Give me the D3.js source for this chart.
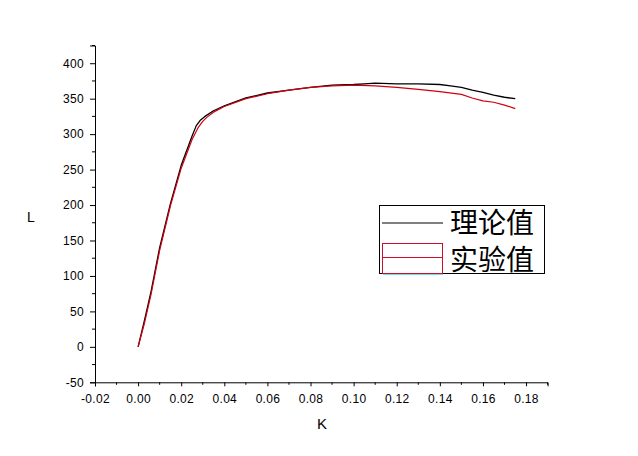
<!DOCTYPE html>
<html><head><meta charset="utf-8">
<script src="https://cdn.jsdelivr.net/npm/d3@7"></script>
<style>body{margin:0;background:#fff}svg{display:block}</style>
</head><body>
<svg id="c" width="638" height="456"></svg>
<script>
const theoryK = [0,0.003,0.006,0.01,0.015,0.02,0.025,0.027,0.029,0.031,0.035,0.04,0.05,0.06,0.07,0.08,0.09,0.10,0.105,0.11,0.12,0.13,0.14,0.145,0.15,0.155,0.16,0.165,0.17,0.175];
const theoryL = [0,38,78,140,202,256,297,312,320,325,333,340,351,358,362,366,369,370,371,372,371,371,370,368,366,362,359,355,352,350];
const expK = [0,0.003,0.006,0.01,0.015,0.02,0.025,0.028,0.030,0.032,0.035,0.04,0.05,0.06,0.07,0.08,0.09,0.10,0.11,0.12,0.13,0.14,0.15,0.155,0.16,0.165,0.17,0.175];
const expL = [0,34,74,136,199,252,292,310,318,324,331,339,350,357,362,366,368,369,368,366,363,360,356,351,347,345,341,336];
const xTicks = [-0.02,0,0.02,0.04,0.06,0.08,0.10,0.12,0.14,0.16,0.18];
const yTicks = [-50,0,50,100,150,200,250,300,350,400];
const seriesNames = ["理论值","实验值"];

const svg = d3.select("#c");
const x = d3.scaleLinear().domain([-0.02,0.19]).range([95,547.6]);
const y = d3.scaleLinear().domain([-50,425]).range([382.3,45.5]);
const font = "'Liberation Sans', Arial, sans-serif";

// x axis
const xAxis = d3.axisBottom(x).tickValues(xTicks).tickFormat(d=>d.toFixed(2)).tickSizeOuter(0).tickSize(4).tickPadding(8);
const gx = svg.append("g").attr("transform","translate(0,382.3)").call(xAxis);
gx.selectAll("text").attr("font-family",font).attr("font-size",12).attr("letter-spacing",0.3).attr("fill","#000");
gx.selectAll("line,path").attr("stroke","#000");
const xMinor = d3.range(-0.01,0.195,0.02);
svg.append("g").selectAll("line").data(xMinor).join("line")
  .attr("x1",d=>x(d)).attr("x2",d=>x(d)).attr("y1",382.3).attr("y2",384.8).attr("stroke","#000");

// y axis
const yAxis = d3.axisLeft(y).tickValues(yTicks).tickFormat(d=>String(d)).tickSizeOuter(0).tickSize(5).tickPadding(6);
const gy = svg.append("g").attr("transform","translate(95,0)").call(yAxis);
gy.selectAll("text").attr("font-family",font).attr("font-size",12).attr("letter-spacing",0.3).attr("fill","#000");
gy.selectAll("line,path").attr("stroke","#000");
const yMinor = d3.range(-25,430,50);
svg.append("g").selectAll("line").data(yMinor).join("line")
  .attr("x1",92).attr("x2",95).attr("y1",d=>y(d)).attr("y2",d=>y(d)).attr("stroke","#000");

// labels
svg.append("text").attr("x",322).attr("y",429).attr("text-anchor","middle")
  .attr("font-family",font).attr("font-size",15).text("K");
svg.append("text").attr("x",31).attr("y",222).attr("text-anchor","middle")
  .attr("font-family",font).attr("font-size",14).text("L");

// lines
const line = d3.line().x(d=>x(d[0])).y(d=>y(d[1]));
const theory = theoryK.map((k,i)=>[k,theoryL[i]]);
const exp = expK.map((k,i)=>[k,expL[i]]);
svg.append("path").datum(theory).attr("d",line).attr("fill","none").attr("stroke","#000").attr("stroke-width",1.3).attr("stroke-linejoin","round");
svg.append("path").datum(exp).attr("d",line).attr("fill","none").attr("stroke","#d00010").attr("stroke-width",1.2).attr("stroke-linejoin","round");

// legend
const lg = svg.append("g");
lg.append("rect").attr("x",379.5).attr("y",205.5).attr("width",165).attr("height",68).attr("fill","#fff").attr("stroke","#000").attr("stroke-width",1);
lg.append("line").attr("x1",382).attr("x2",443).attr("y1",223).attr("y2",223).attr("stroke","#000").attr("stroke-width",1.2);
lg.append("rect").attr("x",382.5).attr("y",243.5).attr("width",60).attr("height",30).attr("fill","none").attr("stroke","#c8102e").attr("stroke-width",1);
lg.append("line").attr("x1",382).attr("x2",443).attr("y1",257.5).attr("y2",257.5).attr("stroke","#c8102e").attr("stroke-width",1);
lg.append("line").attr("x1",383).attr("x2",443).attr("y1",274.5).attr("y2",274.5).attr("stroke","#6fe0e0").attr("stroke-width",1.2);
lg.selectAll("text.lt").data(seriesNames).join("text").attr("class","lt")
  .attr("x",450).attr("y",(d,i)=>233+i*37)
  .attr("font-family","'Noto Sans CJK SC', sans-serif").attr("font-size",28).attr("fill","#000").text(d=>d);
</script>
</body></html>
